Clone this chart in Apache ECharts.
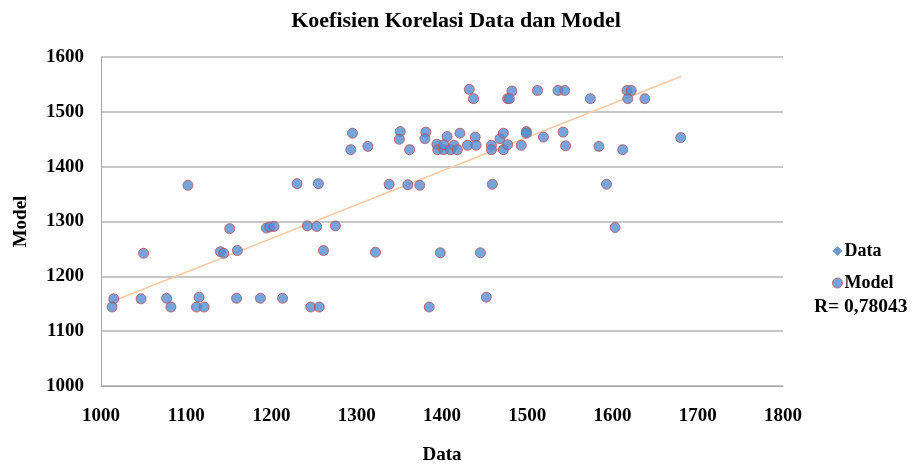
<!DOCTYPE html>
<html>
<head>
<meta charset="utf-8">
<script src="https://cdn.jsdelivr.net/npm/echarts@6/dist/echarts.min.js"></script>
<style>
  html, body { margin: 0; padding: 0; background: #fff; }
  #chart { width: 912px; height: 470px; }
</style>
</head>
<body>
<div id="chart"></div>
<script>
// nilai (perkiraan)
const dataX = [
  1102, 1230, 1255, 1151, 1194, 1198, 1203, 1050, 1140, 1144,
  1160, 1242, 1253, 1275, 1261, 1015, 1013, 1047, 1077, 1082,
  1115, 1112, 1121, 1159, 1187, 1213, 1246, 1256,
  1432, 1437, 1482, 1477, 1479, 1512, 1536, 1544,
  1295, 1293, 1313, 1351, 1350, 1362, 1381, 1380, 1394, 1395,
  1402, 1406, 1402, 1410, 1414, 1418, 1421, 1430, 1439, 1440,
  1458, 1458, 1468, 1472, 1472, 1477, 1493, 1499, 1499, 1519,
  1542, 1338, 1360, 1374, 1459,
  1322, 1398, 1445, 1385, 1452,
  1574, 1617, 1622, 1618, 1638, 1545, 1584, 1612, 1680, 1593, 1603
];
const modelY = [
  1366, 1369, 1369, 1287, 1288, 1290, 1291, 1242, 1245, 1242,
  1247, 1292, 1291, 1292, 1247, 1159, 1144, 1159, 1160, 1144,
  1162, 1144, 1144, 1160, 1160, 1160, 1144, 1144,
  1541, 1524, 1538, 1524, 1524, 1539, 1539, 1539,
  1461, 1431, 1437, 1464, 1450, 1431, 1463, 1451, 1441, 1431,
  1431, 1455, 1440, 1431, 1439, 1431, 1461, 1439, 1454, 1439,
  1439, 1431, 1451, 1461, 1431, 1440, 1439, 1464, 1461, 1454,
  1463, 1368, 1367, 1366, 1368,
  1244, 1243, 1243, 1144, 1162,
  1524, 1539, 1539, 1524, 1524, 1438, 1437, 1431, 1453, 1368, 1289
];
// garis tren (ujung-ujungnya)
const trendX = [1013, 1681];
const trendY = [1154, 1565];

const xTicks = [1000, 1800, 100];
const yTicks = [1000, 1600, 100];
const rText = "R= 0,78043";

const font = "'Liberation Serif', 'Times New Roman', serif";

const chart = echarts.init(document.getElementById("chart"));

chart.setOption({
  animation: false,
  title: {
    text: "Koefisien Korelasi Data dan Model",
    left: 451,
    textAlign: "center",
    top: 5,
    textStyle: { fontFamily: font, fontWeight: "bold", fontSize: 22, color: "#000" },
  },
  grid: { left: 101, right: 129, top: 57, bottom: 79 },
  legend: {
    data: [
      { name: "Data", icon: "diamond" },
      { name: "Model", icon: "circle", itemStyle: { borderWidth: 1 } },
    ],
    orient: "vertical",
    left: 827,
    top: 237,
    itemWidth: 10,
    itemHeight: 10,
    itemGap: 14,
    textStyle: { fontFamily: font, fontWeight: "bold", fontSize: 18, color: "#000", padding: [0, 0, 0, -3] },
  },
  graphic: [
    {
      type: "text",
      left: 814,
      top: 297,
      style: { text: rText, font: "bold 19.5px " + font, fill: "#000" },
    },
  ],
  xAxis: {
    type: "value",
    min: xTicks[0],
    max: xTicks[1],
    interval: xTicks[2],
    name: "Data",
    nameLocation: "middle",
    nameGap: 60,
    nameTextStyle: { fontFamily: font, fontWeight: "bold", fontSize: 19, color: "#000" },
    axisLine: { show: true, lineStyle: { color: "#a6a6a6", width: 1 } },
    axisTick: { show: false },
    splitLine: { show: false },
    axisLabel: {
      margin: 21,
      fontFamily: font, fontWeight: "bold", fontSize: 19, color: "#000",
      formatter: (v) => String(v),
    },
  },
  yAxis: {
    type: "value",
    min: yTicks[0],
    max: yTicks[1],
    interval: yTicks[2],
    name: "Model",
    nameLocation: "middle",
    nameGap: 70,
    nameRotate: 90,
    nameTextStyle: { fontFamily: font, fontWeight: "bold", fontSize: 19, color: "#000" },
    axisLine: { show: true, lineStyle: { color: "#a6a6a6", width: 1 } },
    axisTick: { show: false },
    splitLine: { show: true, lineStyle: { color: "#b4b4b4", width: 1.5 } },
    axisLabel: {
      margin: 17,
      fontFamily: font, fontWeight: "bold", fontSize: 19, color: "#000",
      formatter: (v) => String(v),
    },
  },
  series: [
    {
      name: "Data",
      type: "scatter",
      symbol: "diamond",
      symbolSize: 10,
      itemStyle: { color: "#4a7ebb" },
      data: [],
    },
    {
      name: "trend",
      type: "line",
      symbol: "none",
      silent: true,
      lineStyle: { color: "#f6c9a5", width: 1.5 },
      data: trendX.map((x, i) => [x, trendY[i]]),
      z: 1,
    },
    {
      name: "Model",
      type: "scatter",
      symbol: "circle",
      symbolSize: 10,
      itemStyle: { color: "#548dd4", borderColor: "#b7504d", borderWidth: 1 },
      data: dataX.map((x, i) => [x, modelY[i]]),
      z: 3,
    },
  ],
});
</script>
</body>
</html>
